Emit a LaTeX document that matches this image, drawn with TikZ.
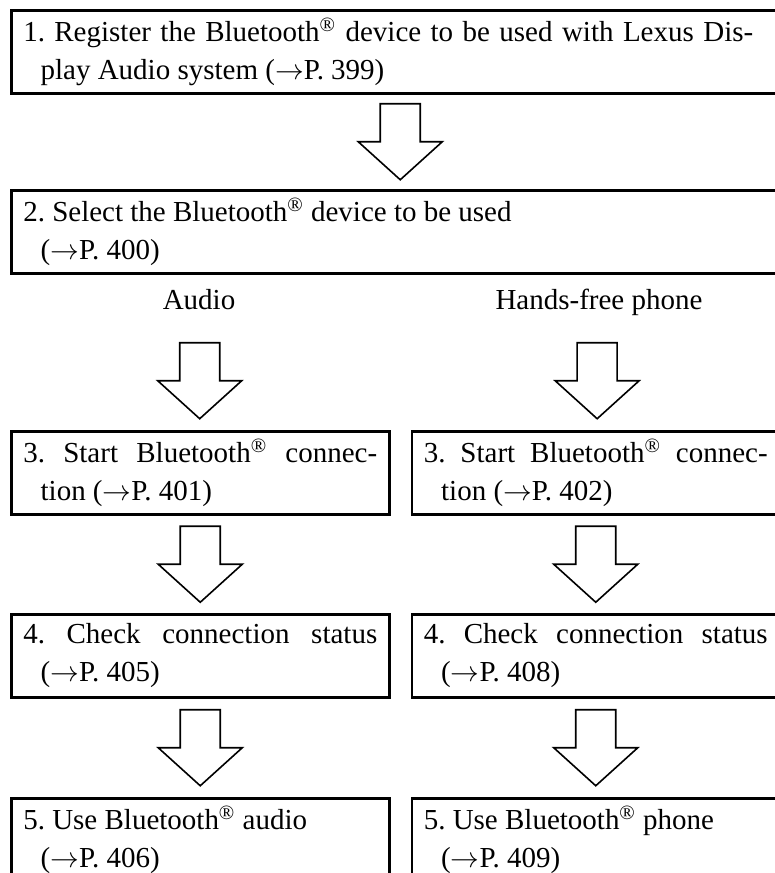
\documentclass[tikz,border=0pt]{standalone}
\usepackage{fontspec}
\setmainfont{Liberation Serif}
\usetikzlibrary{calc,positioning}

\newcommand{\bt}{Bluetooth\textsuperscript{\textregistered}}
\newcommand{\pg}[1]{($\rightarrow$P.~#1)}
% hollow block arrow between two nodes
\newcommand{\hollowdown}[3][.5]{%
  \draw[hollow] ($(#2)!#1!(#3)$) ++(-20,-38) -- ++(0,38) -- ++(-22,0) -- ++(42,38)
    -- ++(42,-38) -- ++(-22,0) -- ++(0,-38) -- cycle;}

\tikzset{
  stepbox/.style={draw, line width=1.25pt, anchor=north west, inner xsep=6pt, inner ysep=0pt,
    minimum height=41.5pt, align=justify, font=\fontsize{14.5pt}{19pt}\selectfont\frenchspacing,
    execute at begin node={\hangindent=0.6em\hangafter=1\relax}},
  fullbox/.style={stepbox, text width=377pt},
  halfbox/.style={stepbox, text width=177pt},
  rightbox/.style={stepbox, text width=172pt},
  branch/.style={inner sep=0pt, anchor=base, text height=10pt, text depth=3pt,
    font=\fontsize{14.5pt}{19pt}\selectfont},
  hollow/.style={draw, line width=0.8pt, fill=white, line join=miter},
}

\begin{document}
\begin{tikzpicture}[x=0.5pt, y=-0.5pt]
  \clip (0,0) rectangle (775,873);

  \node[fullbox, execute at begin node={\hangindent=0.6em\hangafter=1\rightskip=12pt\relax}] (reg) at (10,9)
    {1. Register the \bt{} device to be used with Lexus Dis-\linebreak play Audio system \pg{399}};
  \node[fullbox] (sel) at (10,189) {2. Select the \bt{} device to be used\newline \pg{400}};

  \node[branch] (audio) at (199,309) {Audio};
  \node[branch] (hands) at (599,309) {Hands-free phone};

  \node[halfbox] (conA) at (10,430) {3. Start \bt{} connec-\linebreak tion \pg{401}};
  \node[rightbox, right=10pt of conA.north east, anchor=north west] (conH) {3. Start \bt{} connec-\linebreak tion \pg{402}};
  \node[halfbox] (chkA) at (10,613) {4. Check connection status\linebreak \pg{405}};
  \node[rightbox, right=10pt of chkA.north east, anchor=north west] (chkH) {4. Check connection status\linebreak \pg{408}};
  \node[halfbox] (useA) at (10,797) {5. Use \bt{} audio\newline \pg{406}};
  \node[rightbox, right=10pt of useA.north east, anchor=north west] (useH) {5. Use \bt{} phone\newline \pg{409}};

  \hollowdown{reg.south}{sel.north}
  \hollowdown[.57]{audio.south}{conA.north}
  \hollowdown[.57]{hands.south}{conH.north}
  \hollowdown{conA.south}{chkA.north}
  \hollowdown{conH.south}{chkH.north}
  \hollowdown{chkA.south}{useA.north}
  \hollowdown{chkH.south}{useH.north}
\end{tikzpicture}
\end{document}
